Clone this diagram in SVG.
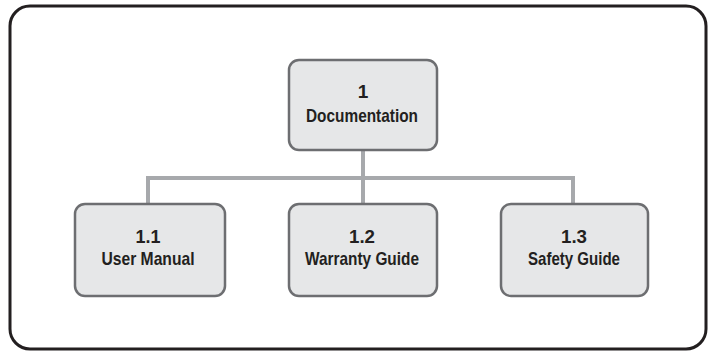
<svg xmlns="http://www.w3.org/2000/svg" width="708" height="351" viewBox="0 0 708 351">
<style>
.frame{fill:#fff;stroke:#231f20;stroke-width:3}
.box{fill:#e6e7e8;stroke:#6d6e71;stroke-width:2.5}
.conn{fill:none;stroke:#a7a9ac;stroke-width:4}
.t{font-family:"Liberation Sans",Arial,sans-serif;font-weight:bold;font-size:19px;fill:#231f20;text-anchor:middle}
</style>
<rect width="708" height="351" fill="#fff"/>
<rect class="frame" x="10" y="6" width="696" height="343" rx="20"/>
<g id="connectors">
<path class="conn" d="M363,150 V178 M148,204 V178 H573 V204 M363,178 V204"/>
</g>
<g id="n1">
<rect class="box" x="289" y="60" width="148" height="90" rx="10"/>
<text class="t" x="363" y="98">1</text>
<text class="t" x="362" y="122" textLength="112" lengthAdjust="spacingAndGlyphs">Documentation</text>
</g>
<g id="n1_1">
<rect class="box" x="75" y="204" width="150" height="92" rx="10"/>
<text class="t" x="148" y="243" textLength="25" lengthAdjust="spacingAndGlyphs">1.1</text>
<text class="t" x="148" y="265" textLength="93" lengthAdjust="spacingAndGlyphs">User Manual</text>
</g>
<g id="n1_2">
<rect class="box" x="289" y="204" width="148" height="92" rx="10"/>
<text class="t" x="362" y="243" textLength="26" lengthAdjust="spacingAndGlyphs">1.2</text>
<text class="t" x="362" y="265" textLength="114" lengthAdjust="spacingAndGlyphs">Warranty Guide</text>
</g>
<g id="n1_3">
<rect class="box" x="501" y="204" width="147" height="92" rx="10"/>
<text class="t" x="574" y="243" textLength="26" lengthAdjust="spacingAndGlyphs">1.3</text>
<text class="t" x="574" y="265" textLength="92" lengthAdjust="spacingAndGlyphs">Safety Guide</text>
</g>
</svg>
